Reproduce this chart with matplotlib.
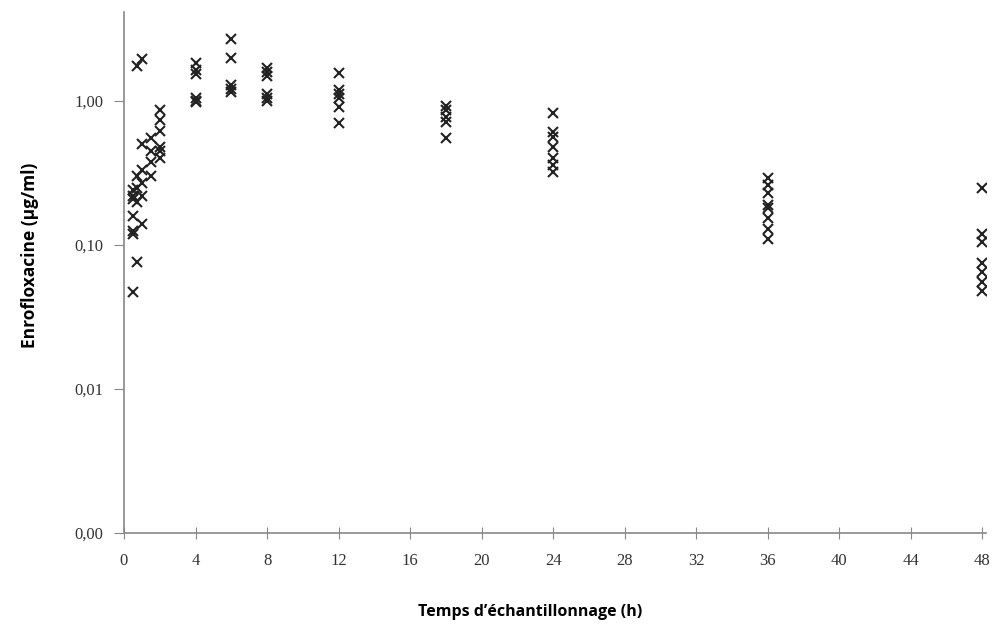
import matplotlib
matplotlib.use("Agg")
import matplotlib.pyplot as plt
from matplotlib.ticker import FixedLocator, NullLocator

# sampling times (h) and measured concentrations (µg/ml)
t_05 = [0.047, 0.12, 0.125, 0.16, 0.21, 0.22, 0.24]
t_075 = [0.076, 0.20, 0.25, 0.30, 1.75]
t_1 = [0.14, 0.22, 0.27, 0.33, 0.50, 1.95]
t_15 = [0.30, 0.38, 0.45, 0.55]
t_2 = [0.40, 0.45, 0.48, 0.62, 0.74, 0.87]
t_4 = [1.85, 1.65, 1.55, 1.05, 1.0, 0.98]
t_6 = [2.7, 2.0, 1.3, 1.22, 1.15]
t_8 = [1.7, 1.6, 1.5, 1.12, 1.05, 1.0]
t_12 = [1.56, 1.2, 1.12, 1.05, 0.91, 0.70]
t_18 = [0.93, 0.86, 0.78, 0.72, 0.55]
t_24 = [0.83, 0.61, 0.56, 0.48, 0.40, 0.36, 0.32]
t_36 = [0.29, 0.26, 0.23, 0.19, 0.18, 0.155, 0.13, 0.11]
t_48 = [0.25, 0.12, 0.105, 0.075, 0.065, 0.055, 0.048]

groups = {0.5: t_05, 0.75: t_075, 1: t_1, 1.5: t_15, 2: t_2, 4: t_4, 6: t_6,
          8: t_8, 12: t_12, 18: t_18, 24: t_24, 36: t_36, 48: t_48}

xticks = list(range(0, 49, 4))
yticks = [0.001, 0.01, 0.1, 1.0]
ylabels = ["0,00", "0,01", "0,10", "1,00"]

fig = plt.figure(figsize=(9.92, 6.36), dpi=100)
ax = fig.add_axes([0.125, 0.162, 0.869, 0.819])

for t, vals in groups.items():
    ax.plot([t] * len(vals), vals, linestyle="none", marker="x",
            markersize=7, markeredgewidth=1.5, color="#222222")

ax.set_yscale("log")
ax.set_xlim(0, 48.2)
ax.set_ylim(0.001, 4.15)

ax.xaxis.set_major_locator(FixedLocator(xticks))
ax.yaxis.set_major_locator(FixedLocator(yticks))
ax.yaxis.set_minor_locator(NullLocator())
ax.set_xticklabels([str(v) for v in xticks])
ax.set_yticklabels(ylabels)

for s in ["top", "right"]:
    ax.spines[s].set_visible(False)
for s in ["left", "bottom"]:
    ax.spines[s].set_color("#888888")
    ax.spines[s].set_linewidth(1.2)

ax.tick_params(axis="x", direction="inout", length=9, color="#888888",
               labelsize=12, labelcolor="#333333", pad=10)
ax.tick_params(axis="y", direction="out", length=7, color="#888888",
               labelsize=12, labelcolor="#333333", pad=8)
for lab in ax.get_xticklabels() + ax.get_yticklabels():
    lab.set_family("Liberation Serif")

ax.set_xlabel("Temps d\u2019échantillonnage (h)", family="Open Sans",
              fontweight="bold", fontsize=11.5)
ax.xaxis.set_label_coords(0.471, -0.152)
ax.xaxis.label.set_va("center")
ax.set_ylabel("Enrofloxacine (µg/ml)", family="Open Sans",
              fontweight="bold", fontsize=12.5)
ax.yaxis.set_label_coords(-0.109, 0.534)
ax.yaxis.label.set_va("center")

fig.savefig("out.png", dpi=100)
